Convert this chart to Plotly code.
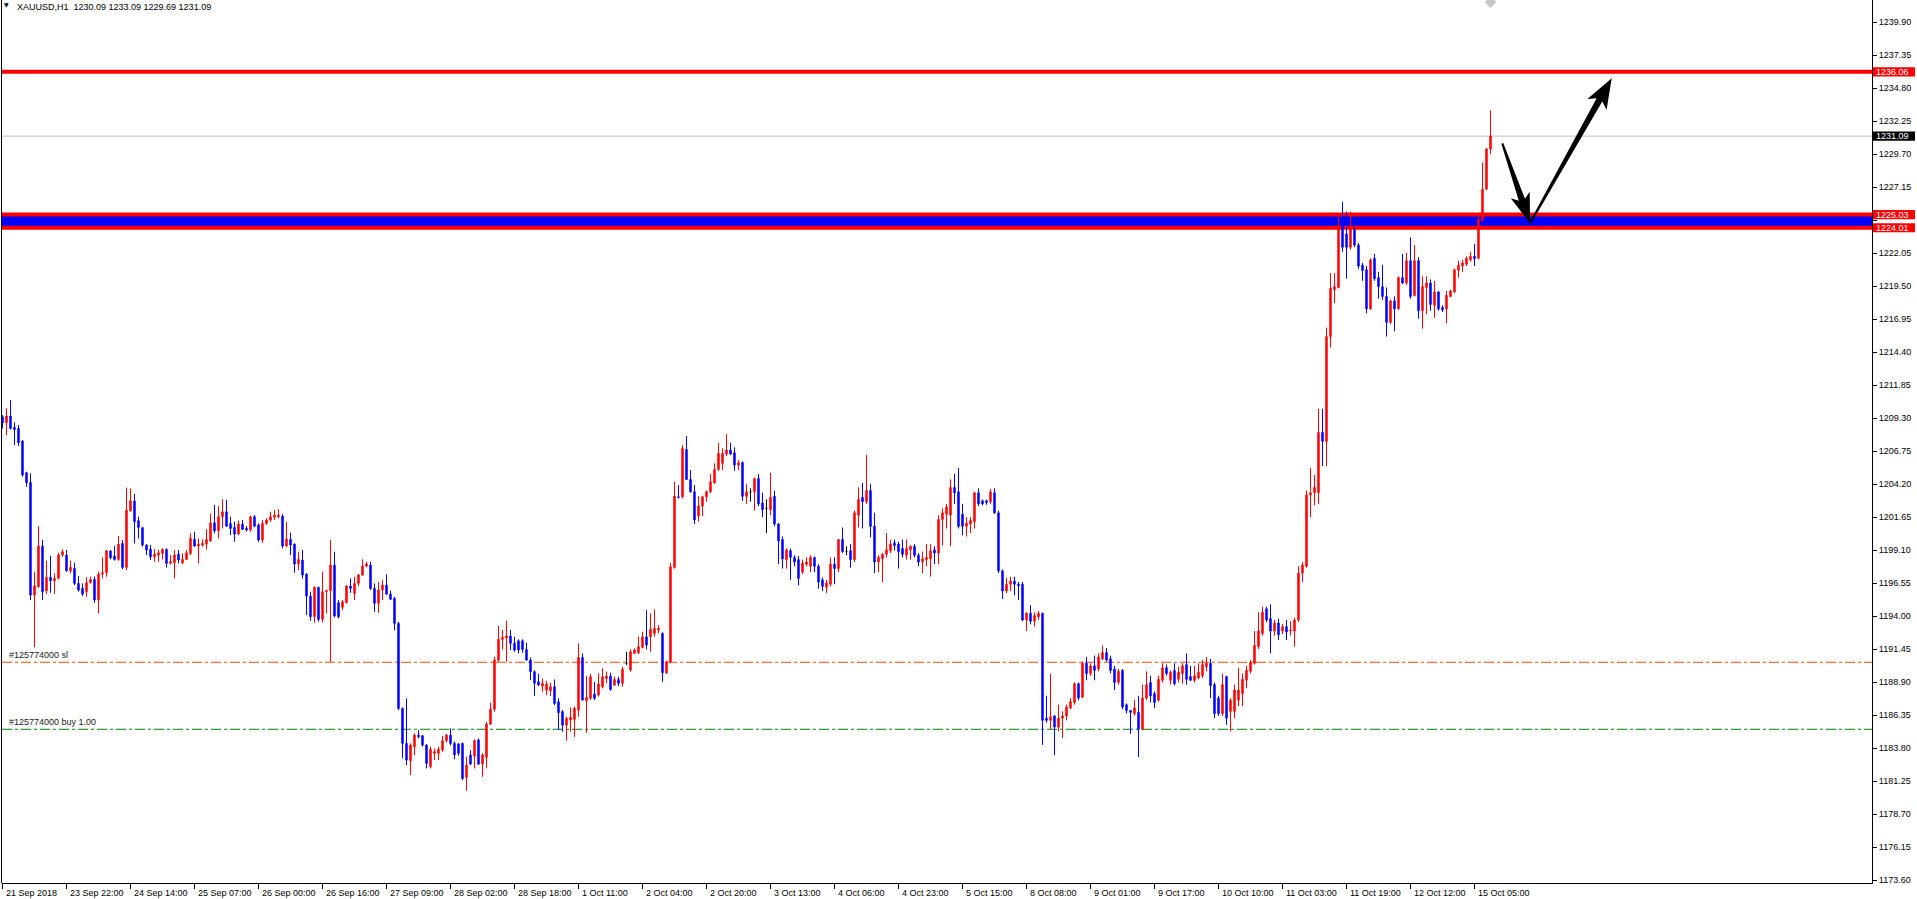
import numpy as np
import plotly.graph_objects as go

# ---------------- data (XAUUSD H1) ----------------
opens = [
    1209.40, 1208.94, 1209.46, 1208.58, 1208.50, 1207.52, 1205.08, 1204.33, 1195.62, 1196.27,
    1199.41, 1195.96, 1196.99, 1196.73, 1196.91, 1198.71, 1198.71, 1197.50, 1197.68, 1196.52,
    1196.14, 1195.88, 1196.58, 1196.83, 1195.24, 1197.24, 1197.35, 1199.02, 1198.64, 1198.38,
    1199.61, 1197.76, 1202.14, 1202.89, 1201.37, 1200.83, 1199.49, 1199.18, 1198.58, 1198.71,
    1198.84, 1199.15, 1198.07, 1198.12, 1198.79, 1198.12, 1198.38, 1198.84, 1199.92, 1199.41,
    1199.49, 1199.56, 1199.82, 1201.21, 1200.59, 1201.68, 1202.06, 1201.16, 1200.85, 1200.34,
    1201.11, 1200.77, 1200.65, 1201.68, 1201.03, 1199.87, 1201.16, 1201.42, 1201.63, 1201.68,
    1201.73, 1199.41, 1199.92, 1199.56, 1198.02, 1198.33, 1197.24, 1195.54, 1193.95, 1196.22,
    1193.74, 1195.88, 1195.96, 1197.94, 1195.03, 1194.67, 1195.03, 1196.32, 1195.75, 1196.52,
    1197.17, 1197.86, 1197.94, 1196.14, 1194.98, 1196.01, 1196.40, 1195.70, 1195.37, 1193.43,
    1186.86, 1184.16, 1182.82, 1183.90, 1184.80, 1184.75, 1184.03, 1182.36, 1183.39, 1183.39,
    1183.64, 1184.37, 1184.80, 1184.16, 1184.11, 1184.16, 1181.53, 1183.26, 1183.18, 1184.42,
    1182.56, 1183.08, 1185.65, 1186.79, 1190.60, 1192.20, 1192.30, 1192.45, 1191.89, 1192.09,
    1192.09, 1191.42, 1190.60, 1189.70, 1188.92, 1188.59, 1188.28, 1188.23, 1188.54, 1187.38,
    1186.61, 1185.57, 1185.96, 1186.01, 1186.73, 1190.80, 1187.46, 1187.64, 1187.97, 1187.89,
    1188.54, 1189.18, 1189.36, 1188.67, 1189.10, 1188.80, 1190.34, 1189.83, 1191.11, 1191.17,
    1191.58, 1192.40, 1192.40, 1192.66, 1192.92, 1192.66, 1189.62, 1190.47, 1197.76, 1203.22,
    1203.22, 1206.88, 1204.56, 1203.61, 1201.73, 1202.50, 1203.22, 1203.61, 1204.30, 1205.33,
    1205.80, 1206.52, 1206.83, 1206.62, 1205.67, 1205.87, 1203.25, 1203.60, 1203.60, 1204.63,
    1202.74, 1202.32, 1202.22, 1203.25, 1201.12, 1199.91, 1198.36, 1199.05, 1198.53, 1198.36,
    1197.39, 1198.01, 1197.84, 1198.53, 1197.84, 1196.80, 1196.22, 1196.46, 1198.01, 1197.67,
    1199.91, 1198.98, 1199.05, 1198.36, 1201.80, 1203.18, 1202.84, 1203.70, 1200.94, 1198.18,
    1198.42, 1198.77, 1199.05, 1199.67, 1199.56, 1199.22, 1198.70, 1199.12, 1199.39, 1198.70,
    1198.18, 1198.36, 1198.42, 1199.12, 1198.87, 1201.46, 1201.87, 1201.80, 1203.94, 1203.60,
    1201.87, 1200.94, 1201.12, 1201.29, 1203.53, 1202.91, 1202.91, 1202.84, 1203.53, 1201.98,
    1197.49, 1195.94, 1196.46, 1196.70, 1196.46, 1196.46, 1193.70, 1194.22, 1193.60, 1193.94,
    1194.22, 1186.11, 1185.94, 1186.28, 1185.42, 1186.11, 1186.28, 1186.90, 1187.32, 1188.77,
    1187.73, 1190.35, 1189.56, 1190.15, 1189.91, 1190.70, 1191.18, 1190.70, 1189.91, 1188.87,
    1189.80, 1187.15, 1186.70, 1186.46, 1186.56, 1185.25, 1187.66, 1188.87, 1188.01, 1187.49,
    1189.04, 1190.01, 1189.04, 1189.80, 1189.11, 1189.56, 1190.25, 1189.32, 1189.04, 1189.21,
    1189.39, 1190.08, 1190.35, 1188.70, 1187.66, 1186.46, 1189.32, 1186.63, 1186.63, 1187.49,
    1188.01, 1189.04, 1189.73, 1190.35, 1191.63, 1192.66, 1194.56, 1193.80, 1192.84, 1193.46,
    1192.84, 1193.18, 1192.84, 1192.84, 1193.70, 1197.32, 1197.84, 1203.36, 1203.53, 1203.53,
    1208.19, 1207.50, 1215.60, 1219.22, 1219.39, 1224.22, 1223.53, 1222.50, 1223.88, 1222.67,
    1221.12, 1220.77, 1217.74, 1221.64, 1220.15, 1219.46, 1218.70, 1216.70, 1218.36, 1217.74,
    1220.15, 1219.74, 1221.46, 1218.77, 1221.46, 1217.60, 1219.39, 1219.74, 1218.01, 1219.05,
    1217.84, 1217.74, 1218.70, 1219.05, 1220.71, 1221.05, 1221.19, 1221.53, 1221.81, 1221.64,
    1224.57, 1226.98, 1230.09,
]
highs = [
    1209.53, 1210.05, 1210.69, 1208.97, 1208.76, 1207.60, 1205.15, 1205.02, 1197.43, 1200.95,
    1199.87, 1198.28, 1198.64, 1197.30, 1198.89, 1199.15, 1199.10, 1198.28, 1198.12, 1197.09,
    1196.52, 1196.99, 1197.04, 1197.04, 1197.43, 1198.53, 1199.10, 1199.10, 1199.41, 1200.18,
    1199.87, 1203.92, 1203.86, 1203.43, 1201.68, 1200.90, 1199.56, 1199.49, 1199.15, 1199.10,
    1199.23, 1199.23, 1198.71, 1199.10, 1199.10, 1198.84, 1199.10, 1200.39, 1200.52, 1200.00,
    1199.92, 1200.70, 1201.93, 1202.58, 1202.50, 1203.02, 1202.96, 1201.68, 1201.29, 1201.37,
    1201.42, 1200.95, 1201.73, 1201.80, 1201.16, 1201.42, 1201.55, 1202.06, 1202.19, 1202.24,
    1201.88, 1201.29, 1200.44, 1199.61, 1198.97, 1199.10, 1197.30, 1195.88, 1196.30, 1196.27,
    1197.43, 1196.01, 1199.87, 1198.97, 1195.24, 1195.24, 1196.40, 1196.91, 1197.04, 1197.24,
    1198.38, 1198.20, 1198.20, 1196.52, 1196.65, 1196.78, 1197.24, 1195.96, 1195.49, 1193.56,
    1186.94, 1187.64, 1184.16, 1184.93, 1185.19, 1184.80, 1184.10, 1183.90, 1183.77, 1183.90,
    1184.73, 1184.88, 1185.32, 1184.30, 1184.20, 1184.21, 1183.13, 1183.64, 1184.47, 1184.54,
    1183.40, 1185.83, 1187.30, 1190.86, 1193.23, 1192.92, 1193.64, 1192.92, 1192.40, 1192.20,
    1192.20, 1191.94, 1190.80, 1189.80, 1189.52, 1189.18, 1189.00, 1188.85, 1189.10, 1187.64,
    1186.73, 1186.22, 1186.94, 1186.99, 1191.89, 1191.11, 1189.36, 1189.52, 1188.92, 1189.57,
    1189.96, 1189.70, 1189.62, 1189.31, 1189.30, 1190.08, 1191.24, 1191.42, 1191.50, 1192.40,
    1192.79, 1194.46, 1194.20, 1194.51, 1193.30, 1192.75, 1190.55, 1198.12, 1204.38, 1204.12,
    1207.21, 1207.91, 1205.28, 1204.12, 1203.27, 1203.30, 1203.70, 1204.97, 1205.80, 1207.39,
    1206.96, 1208.06, 1207.39, 1207.03, 1206.05, 1205.95, 1204.22, 1203.87, 1204.70, 1204.98,
    1203.53, 1203.01, 1205.08, 1203.70, 1201.18, 1200.15, 1199.22, 1199.22, 1198.70, 1198.63,
    1198.36, 1198.53, 1198.70, 1198.60, 1198.01, 1196.97, 1196.80, 1198.53, 1198.53, 1199.95,
    1200.84, 1199.39, 1199.56, 1202.15, 1203.94, 1204.29, 1206.46, 1204.22, 1201.98, 1198.70,
    1198.87, 1200.42, 1199.91, 1199.91, 1199.74, 1199.91, 1199.91, 1199.45, 1199.56, 1198.87,
    1198.98, 1199.56, 1199.56, 1199.39, 1201.80, 1202.32, 1202.67, 1204.56, 1204.98, 1205.43,
    1202.67, 1201.63, 1201.63, 1203.60, 1203.87, 1203.01, 1203.00, 1203.81, 1203.87, 1202.15,
    1197.60, 1196.97, 1197.04, 1197.04, 1196.63, 1196.63, 1194.29, 1194.84, 1194.29, 1194.39,
    1194.25, 1187.84, 1189.56, 1186.35, 1187.15, 1186.63, 1187.15, 1187.66, 1188.87, 1188.87,
    1190.49, 1190.84, 1190.35, 1190.94, 1191.11, 1191.73, 1191.53, 1190.94, 1190.15, 1189.91,
    1189.91, 1187.25, 1186.75, 1187.50, 1187.84, 1188.70, 1189.73, 1189.39, 1188.18, 1189.39,
    1190.35, 1190.25, 1189.80, 1190.35, 1190.08, 1190.35, 1191.11, 1190.15, 1190.15, 1190.35,
    1190.60, 1190.84, 1190.70, 1188.87, 1187.84, 1189.56, 1189.39, 1187.66, 1188.70, 1190.01,
    1189.56, 1190.15, 1190.60, 1192.84, 1194.29, 1194.73, 1194.73, 1194.91, 1193.70, 1193.80,
    1193.40, 1193.70, 1193.60, 1193.87, 1197.84, 1198.18, 1203.70, 1205.43, 1204.91, 1210.01,
    1210.01, 1216.29, 1220.50, 1220.50, 1224.84, 1226.02, 1225.26, 1225.26, 1224.05, 1222.84,
    1221.29, 1221.05, 1221.64, 1221.98, 1220.60, 1221.12, 1219.39, 1218.43, 1218.70, 1220.26,
    1221.98, 1222.08, 1223.26, 1222.67, 1221.74, 1220.26, 1220.26, 1220.01, 1219.91, 1219.12,
    1218.01, 1219.12, 1219.22, 1220.84, 1221.46, 1221.53, 1221.81, 1222.15, 1222.77, 1224.84,
    1229.05, 1230.16, 1233.09,
]
lows = [
    1208.50, 1207.99, 1208.42, 1207.21, 1207.14, 1204.77, 1203.99, 1195.24, 1191.58, 1196.20,
    1195.24, 1195.70, 1195.80, 1195.70, 1196.83, 1198.58, 1197.43, 1197.30, 1196.40, 1195.88,
    1195.54, 1195.49, 1196.52, 1195.03, 1194.20, 1196.91, 1197.04, 1198.38, 1198.28, 1198.28,
    1197.61, 1197.55, 1202.06, 1199.61, 1200.00, 1199.36, 1198.71, 1198.33, 1198.20, 1198.20,
    1198.38, 1197.76, 1197.99, 1196.91, 1198.07, 1198.02, 1198.33, 1198.71, 1199.36, 1198.07,
    1199.36, 1199.15, 1199.74, 1200.39, 1200.00, 1200.77, 1200.90, 1200.26, 1199.74, 1200.26,
    1200.65, 1200.52, 1200.52, 1200.85, 1199.74, 1199.67, 1201.03, 1201.29, 1201.42, 1201.55,
    1199.23, 1199.36, 1198.71, 1197.35, 1197.55, 1196.91, 1194.08, 1193.64, 1193.48, 1193.56,
    1193.50, 1194.20, 1190.47, 1193.90, 1193.82, 1194.46, 1194.98, 1195.80, 1195.24, 1196.32,
    1197.10, 1197.76, 1196.01, 1194.33, 1194.26, 1195.24, 1195.62, 1195.24, 1192.92, 1186.73,
    1183.00, 1182.48, 1181.71, 1183.26, 1184.54, 1183.90, 1182.23, 1182.23, 1182.87, 1182.87,
    1183.52, 1184.21, 1184.00, 1182.92, 1183.20, 1181.32, 1180.50, 1182.48, 1182.23, 1182.48,
    1181.58, 1182.23, 1185.57, 1186.61, 1190.47, 1191.42, 1190.47, 1191.37, 1191.24, 1191.11,
    1191.16, 1190.55, 1189.05, 1187.82, 1188.59, 1188.15, 1187.89, 1187.82, 1187.12, 1185.19,
    1185.06, 1184.37, 1185.06, 1184.67, 1186.22, 1187.46, 1184.98, 1187.51, 1187.51, 1187.77,
    1188.41, 1188.80, 1188.23, 1188.59, 1188.59, 1188.54, 1190.21, 1189.70, 1191.06, 1191.06,
    1191.50, 1191.42, 1191.24, 1192.40, 1192.66, 1188.92, 1189.52, 1190.34, 1197.68, 1203.09,
    1203.09, 1204.51, 1203.53, 1201.11, 1201.29, 1201.73, 1202.84, 1203.50, 1204.20, 1205.23,
    1205.28, 1206.36, 1206.44, 1205.23, 1205.28, 1202.91, 1202.67, 1202.84, 1202.15, 1202.49,
    1201.63, 1200.42, 1201.80, 1200.94, 1198.01, 1197.67, 1197.67, 1196.80, 1197.84, 1196.36,
    1197.25, 1197.84, 1197.39, 1197.39, 1196.11, 1195.94, 1195.77, 1196.29, 1196.46, 1197.39,
    1198.87, 1198.70, 1197.74, 1198.18, 1200.84, 1200.77, 1202.67, 1200.08, 1197.32, 1197.39,
    1196.63, 1198.53, 1198.87, 1199.05, 1197.67, 1198.53, 1198.36, 1198.36, 1198.53, 1197.84,
    1197.32, 1197.84, 1197.05, 1198.01, 1198.01, 1199.46, 1200.77, 1199.39, 1202.67, 1200.77,
    1200.25, 1200.15, 1200.42, 1200.77, 1202.49, 1202.56, 1202.60, 1202.67, 1201.90, 1197.32,
    1195.32, 1195.77, 1195.94, 1195.60, 1195.25, 1193.60, 1192.84, 1193.36, 1193.18, 1193.70,
    1184.04, 1185.77, 1185.25, 1183.25, 1185.08, 1184.56, 1185.94, 1186.80, 1187.15, 1187.49,
    1187.66, 1189.04, 1189.39, 1189.04, 1189.73, 1190.60, 1190.49, 1189.56, 1188.28, 1188.70,
    1186.80, 1186.46, 1184.90, 1186.30, 1183.11, 1185.18, 1187.49, 1187.32, 1186.90, 1187.39,
    1188.87, 1189.39, 1188.70, 1188.63, 1188.87, 1188.77, 1188.70, 1188.97, 1188.87, 1189.11,
    1189.21, 1189.73, 1187.66, 1186.11, 1186.28, 1186.28, 1185.59, 1185.08, 1186.11, 1187.04,
    1187.04, 1188.42, 1189.56, 1190.25, 1191.46, 1192.49, 1193.53, 1191.11, 1192.49, 1192.15,
    1192.60, 1192.15, 1192.49, 1191.63, 1193.53, 1196.63, 1197.74, 1201.63, 1202.56, 1202.67,
    1205.60, 1205.60, 1214.74, 1218.19, 1219.33, 1222.15, 1220.08, 1222.33, 1222.50, 1220.84,
    1219.91, 1217.39, 1217.67, 1219.91, 1218.53, 1218.43, 1215.60, 1216.57, 1216.01, 1217.67,
    1219.67, 1219.57, 1218.53, 1218.70, 1216.98, 1216.22, 1217.32, 1217.60, 1217.05, 1217.60,
    1217.50, 1216.64, 1218.64, 1218.98, 1220.15, 1220.60, 1221.05, 1221.39, 1221.05, 1221.60,
    1224.50, 1226.91, 1229.69,
]
closes = [
    1208.94, 1209.46, 1208.50, 1208.42, 1207.39, 1204.90, 1204.30, 1195.62, 1196.32, 1199.41,
    1195.88, 1196.99, 1196.73, 1196.91, 1198.71, 1198.97, 1197.50, 1197.76, 1196.52, 1196.01,
    1195.70, 1196.58, 1196.83, 1195.24, 1197.24, 1197.35, 1199.05, 1198.51, 1198.38, 1199.56,
    1197.76, 1202.19, 1202.91, 1201.29, 1200.85, 1199.49, 1199.10, 1198.58, 1198.79, 1198.89,
    1199.15, 1198.07, 1198.20, 1198.71, 1198.33, 1198.38, 1198.89, 1200.00, 1199.41, 1199.56,
    1199.61, 1199.92, 1201.21, 1200.59, 1201.68, 1202.06, 1200.95, 1200.77, 1200.34, 1201.11,
    1200.70, 1200.65, 1201.68, 1200.95, 1199.87, 1201.16, 1201.42, 1201.68, 1201.80, 1201.80,
    1199.41, 1199.95, 1199.49, 1198.02, 1198.38, 1197.17, 1195.54, 1193.95, 1196.22, 1193.74,
    1195.88, 1195.96, 1197.94, 1194.00, 1193.95, 1195.11, 1196.32, 1196.14, 1196.52, 1197.17,
    1197.86, 1198.02, 1196.14, 1194.98, 1196.01, 1196.40, 1195.70, 1195.29, 1193.43, 1186.86,
    1184.16, 1182.87, 1184.03, 1184.80, 1184.67, 1184.03, 1182.61, 1183.70, 1183.52, 1183.70,
    1184.37, 1184.80, 1184.16, 1183.26, 1183.39, 1181.45, 1182.48, 1182.56, 1184.37, 1182.56,
    1183.26, 1185.65, 1186.79, 1190.60, 1192.20, 1192.35, 1192.45, 1191.89, 1191.37, 1191.37,
    1191.42, 1190.60, 1189.70, 1188.80, 1188.67, 1188.80, 1188.75, 1188.54, 1187.25, 1186.53,
    1185.57, 1186.09, 1186.17, 1186.86, 1190.80, 1187.51, 1187.71, 1189.31, 1187.64, 1188.75,
    1189.31, 1189.36, 1188.33, 1189.10, 1188.80, 1189.88, 1190.34, 1191.24, 1191.37, 1191.63,
    1192.40, 1191.76, 1192.97, 1193.05, 1193.05, 1189.62, 1190.47, 1197.81, 1203.27, 1203.17,
    1206.96, 1204.56, 1203.61, 1201.42, 1202.50, 1203.22, 1203.61, 1204.38, 1205.33, 1206.57,
    1206.57, 1206.83, 1206.52, 1205.67, 1205.85, 1203.25, 1203.60, 1203.60, 1204.63, 1202.67,
    1202.22, 1202.32, 1203.18, 1201.12, 1199.80, 1198.42, 1199.12, 1198.53, 1198.18, 1196.91,
    1198.08, 1198.18, 1198.53, 1197.84, 1196.63, 1196.29, 1196.56, 1198.01, 1197.67, 1199.91,
    1198.98, 1198.98, 1198.36, 1201.98, 1203.01, 1202.84, 1203.70, 1200.94, 1198.18, 1198.53,
    1198.77, 1199.12, 1199.56, 1199.46, 1198.98, 1198.77, 1199.22, 1199.39, 1198.70, 1198.18,
    1198.42, 1198.53, 1199.05, 1198.87, 1201.46, 1201.98, 1202.43, 1203.94, 1203.53, 1200.94,
    1200.94, 1201.18, 1201.39, 1203.53, 1202.67, 1202.67, 1202.77, 1203.60, 1201.98, 1197.49,
    1195.94, 1196.46, 1196.70, 1196.46, 1196.36, 1193.70, 1194.22, 1193.60, 1194.04, 1194.22,
    1185.94, 1185.94, 1186.22, 1185.42, 1186.11, 1186.28, 1186.97, 1187.39, 1188.77, 1187.66,
    1190.35, 1189.56, 1190.15, 1189.80, 1190.84, 1191.18, 1190.60, 1189.80, 1188.87, 1189.73,
    1186.97, 1186.70, 1186.56, 1186.90, 1185.25, 1187.66, 1188.70, 1187.84, 1187.32, 1189.11,
    1190.01, 1189.56, 1189.66, 1188.77, 1189.66, 1190.15, 1189.11, 1189.04, 1189.39, 1189.66,
    1190.25, 1190.35, 1188.63, 1186.46, 1186.46, 1188.70, 1186.11, 1187.49, 1188.29, 1188.29,
    1189.11, 1189.80, 1190.42, 1191.73, 1192.84, 1194.29, 1193.70, 1192.84, 1193.46, 1192.56,
    1193.18, 1192.77, 1192.91, 1193.70, 1197.32, 1197.94, 1203.36, 1203.53, 1203.94, 1208.19,
    1207.50, 1215.60, 1219.33, 1219.46, 1224.22, 1222.50, 1222.50, 1223.88, 1222.67, 1221.05,
    1220.71, 1217.74, 1221.53, 1220.08, 1219.46, 1218.70, 1216.70, 1218.36, 1217.74, 1220.15,
    1219.74, 1221.46, 1218.70, 1221.46, 1217.60, 1219.46, 1219.74, 1218.08, 1219.05, 1217.74,
    1217.67, 1218.77, 1219.12, 1220.77, 1221.12, 1221.29, 1221.64, 1221.81, 1221.64, 1224.64,
    1226.98, 1230.09, 1231.09,
]

x_tick_bars = [0, 16, 32, 48, 64, 80, 96, 112, 128, 144, 160, 176,
               192, 208, 224, 240, 256, 272, 288, 304, 320, 336, 352, 368]
x_tick_labels = ["21 Sep 2018", "23 Sep 22:00", "24 Sep 14:00", "25 Sep 07:00",
                 "26 Sep 00:00", "26 Sep 16:00", "27 Sep 09:00", "28 Sep 02:00",
                 "28 Sep 18:00", "1 Oct 11:00", "2 Oct 04:00", "2 Oct 20:00",
                 "3 Oct 13:00", "4 Oct 06:00", "4 Oct 23:00", "5 Oct 15:00",
                 "8 Oct 08:00", "9 Oct 01:00", "9 Oct 17:00", "10 Oct 10:00",
                 "11 Oct 03:00", "11 Oct 19:00", "12 Oct 12:00", "15 Oct 05:00"]
y_tick_values = [1173.60, 1176.15, 1178.70, 1181.25, 1183.80, 1186.35, 1188.90,
                 1191.45, 1194.00, 1196.55, 1199.10, 1201.65, 1204.20, 1206.75,
                 1209.30, 1211.85, 1214.40, 1216.95, 1219.50, 1222.05, 1224.60,
                 1227.15, 1229.70, 1232.25, 1234.80, 1237.35, 1239.90]
# the 1224.60 label sits under the zone price boxes on the axis
hidden_y_tick = 1224.60

symbol_name = "XAUUSD,H1"
resistance_level = 1236.06
zone_top = 1225.03
zone_bottom = 1224.01
bid_price = 1231.09
sl_price = 1190.43
entry_price = 1185.25
order_sl_text = "#125774000 sl"
order_buy_text = "#125774000 buy 1.00"

arrow_down = [(374.95, 1230.53), (381.9, 1224.35)]
arrow_up = [(381.9, 1224.35), (402.3, 1235.57)]
trade_marker = (372, 1241.45)

X_RANGE = [-0.125, 467.375]
Y_RANGE = [1173.37, 1241.61]

# ---------------- figure ----------------
W, H = 1917, 899
ML, MR, MT, MB = 2, 45, 0, 16
PW, PH = W - ML - MR, H - MT - MB
PX_X = PW / (X_RANGE[1] - X_RANGE[0])
PX_Y = PH / (Y_RANGE[1] - Y_RANGE[0])

assert len(opens) == len(highs) == len(lows) == len(closes)
o = np.array(opens); h = np.array(highs); l = np.array(lows); c = np.array(closes)
idx = np.arange(len(o))

FONT = "Liberation Sans, Arial, sans-serif"
RED = "#FF0000"
BLUE = "#0000FF"

fig = go.Figure()


def candles(mask, color):
    return go.Candlestick(
        x=idx[mask], open=o[mask], high=h[mask], low=l[mask], close=c[mask],
        increasing=dict(line=dict(color=color, width=1), fillcolor=color),
        decreasing=dict(line=dict(color=color, width=1), fillcolor=color),
        whiskerwidth=0, hoverinfo="skip", showlegend=False)


fig.add_trace(candles(c > o, RED))
fig.add_trace(candles(c < o, BLUE))
fig.add_trace(candles(c == o, "#000000"))

fig.add_trace(go.Scatter(x=[trade_marker[0]], y=[trade_marker[1]], mode="markers",
                         marker=dict(symbol="diamond", size=9, color="#C8C8C8"),
                         hoverinfo="skip", showlegend=False))

shapes = []


def hline(y, color, width, dash="solid", layer="below"):
    shapes.append(dict(type="line", xref="paper", yref="y", x0=0, x1=1, y0=y, y1=y,
                       line=dict(color=color, width=width, dash=dash), layer=layer))


# zone
shapes.append(dict(type="rect", xref="paper", yref="y", x0=0, x1=1,
                   y0=zone_bottom, y1=zone_top, fillcolor=BLUE, line=dict(width=0),
                   layer="below"))
hline(zone_top, RED, 4)
hline(zone_bottom, RED, 4)
hline(resistance_level, RED, 4)
hline(bid_price, "#C0C0C0", 1)
hline(sl_price, "#FF4500", 1, dash="10px,3px,3px,3px")
hline(entry_price, "#008000", 1, dash="10px,3px,3px,3px")

# frame (left)
shapes.append(dict(type="line", xref="paper", yref="paper", x0=-0.5 / PW, x1=-0.5 / PW,
                   y0=0, y1=1, line=dict(color="black", width=1), layer="above"))


def arrow_path(p0, p1, tail_w, neck_w, head_w, head_len, barb):
    x0, y0 = p0[0] * PX_X, -p0[1] * PX_Y
    x1, y1 = p1[0] * PX_X, -p1[1] * PX_Y
    dx, dy = x1 - x0, y1 - y0
    L = (dx * dx + dy * dy) ** 0.5
    ux, uy = dx / L, dy / L
    nx, ny = -uy, ux
    kx, ky = x1 - ux * head_len, y1 - uy * head_len
    bx, by = kx - ux * barb, ky - uy * barb
    pts = [(x0 + nx * tail_w / 2, y0 + ny * tail_w / 2),
           (kx + nx * neck_w / 2, ky + ny * neck_w / 2),
           (bx + nx * head_w / 2, by + ny * head_w / 2),
           (x1, y1),
           (bx - nx * head_w / 2, by - ny * head_w / 2),
           (kx - nx * neck_w / 2, ky - ny * neck_w / 2),
           (x0 - nx * tail_w / 2, y0 - ny * tail_w / 2)]
    return "M " + " L ".join(f"{px / PX_X:.4f},{-py / PX_Y:.4f}" for px, py in pts) + " Z"


for pts, hw, hl in ((arrow_down, 20, 25), (arrow_up, 22, 25)):
    shapes.append(dict(type="path", xref="x", yref="y",
                       path=arrow_path(pts[0], pts[1], 2.0, 6.5, hw, hl, 5),
                       fillcolor="black", line=dict(width=0), layer="above"))

annotations = []

# price label boxes on the axis
for price, bg in ((resistance_level, RED), (bid_price, "#000000"),
                  (zone_top, RED), (zone_bottom, RED)):
    shapes.append(dict(type="rect", xref="paper", yref="y",
                       x0=1 + 1.0 / PW, x1=1 + 43.0 / PW,
                       y0=price - 4.6 / PX_Y, y1=price + 4.6 / PX_Y,
                       fillcolor=bg, line=dict(width=0), layer="above"))
    annotations.append(dict(xref="paper", yref="y", x=1 + 3.0 / PW, y=price,
                            text=f"{price:.2f}", showarrow=False, xanchor="left",
                            yanchor="middle", borderpad=0,
                            font=dict(family=FONT, size=9, color="white")))

# x tick labels (to the right of each tick, MT4 style)
for b, t in zip(x_tick_bars, x_tick_labels):
    annotations.append(dict(xref="x", yref="paper", x=b + 0.3, y=-10.0 / PH,
                            text=t, showarrow=False, xanchor="left", yanchor="middle",
                            font=dict(family=FONT, size=9, color="black")))

# order line labels
for price, txt in ((sl_price, order_sl_text), (entry_price, order_buy_text)):
    annotations.append(dict(xref="paper", yref="y", x=5.0 / PW, y=price, yshift=7,
                            text=txt, showarrow=False, xanchor="left", yanchor="middle",
                            font=dict(family=FONT, size=9, color="#202020")))

# header
annotations.append(dict(xref="paper", yref="paper", x=0.3 / PW, y=1 - 5.0 / PH,
                        text="\u25BC", showarrow=False, xanchor="left", yanchor="middle",
                        font=dict(family="DejaVu Sans", size=6, color="black")))
header = (f"{symbol_name}\u00a0\u00a0{opens[-1]:.2f} {highs[-1]:.2f} "
          f"{lows[-1]:.2f} {closes[-1]:.2f}")
annotations.append(dict(xref="paper", yref="paper", x=13.0 / PW, y=1 - 7.0 / PH,
                        text=header, showarrow=False, xanchor="left", yanchor="middle",
                        font=dict(family=FONT, size=9, color="black")))

y_tick_text = ["" if abs(v - hidden_y_tick) < 1e-6 else f"{v:.2f}" for v in y_tick_values]

fig.update_layout(
    width=W, height=H,
    margin=dict(l=ML, r=MR, t=MT, b=MB, pad=0),
    paper_bgcolor="white", plot_bgcolor="white",
    boxgap=0.5,
    showlegend=False,
    shapes=shapes,
    annotations=annotations,
    xaxis=dict(range=X_RANGE, showgrid=False, zeroline=False, showline=True,
               linecolor="black", linewidth=1, ticks="outside", ticklen=5,
               tickcolor="black", tickwidth=1, tickmode="array",
               tickvals=x_tick_bars, showticklabels=False,
               rangeslider=dict(visible=False), fixedrange=True),
    yaxis=dict(range=Y_RANGE, side="right", showgrid=False, zeroline=False,
               showline=True, linecolor="black", linewidth=1, ticks="outside",
               ticklen=4, tickcolor="black", tickwidth=1, tickmode="array",
               tickvals=y_tick_values, ticktext=y_tick_text,
               tickfont=dict(family=FONT, size=9, color="black"), fixedrange=True),
    hovermode=False,
)

fig.write_html("out.html", config={"displayModeBar": False},
               post_script="document.body.style.margin='0';"
                           "document.body.style.overflow='hidden';")
